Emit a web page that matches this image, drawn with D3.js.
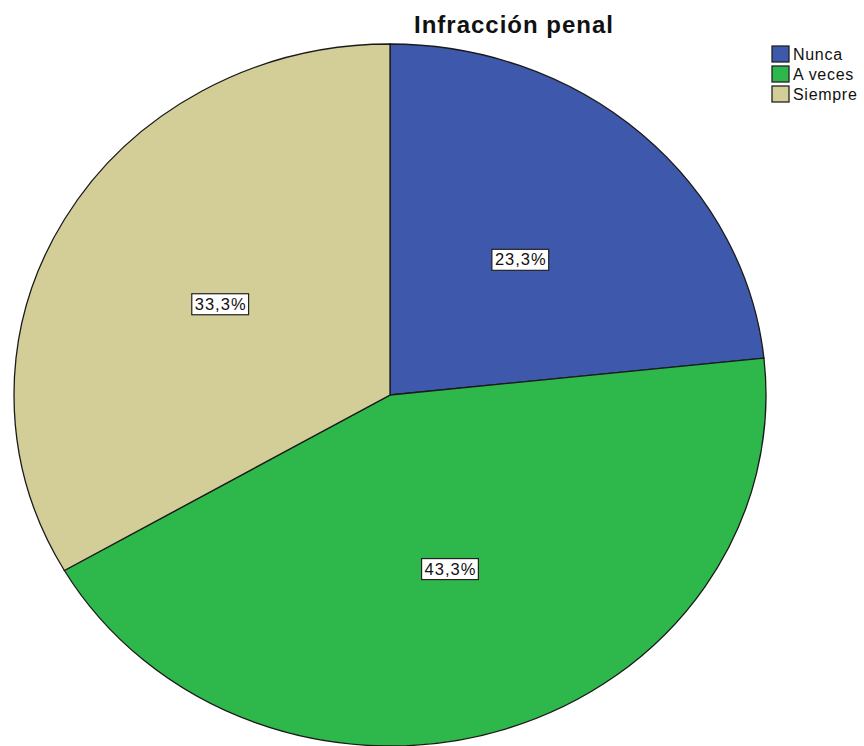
<!DOCTYPE html>
<html>
<head>
<meta charset="utf-8">
<script src="https://cdn.jsdelivr.net/npm/d3@7"></script>
<style>
  body { margin: 0; background: #fff; }
  text { font-family: "Liberation Sans", Arial, sans-serif; }
</style>
</head>
<body>
<svg width="864" height="746"></svg>
<script>
// data
let categories = ["Nunca", "A veces", "Siempre"];
let values     = [23.3, 43.3, 33.3];
let colours    = ["#3E58AC", "#2EB74A", "#D3CE97"];

let svg = d3.select("svg");

let cx = 390, cy = 395, rx = 376, ry = 351;

let pie = d3.pie().sort(null).value(d => d.v);
let arcs = pie(categories.map((c, i) => ({c: c, v: values[i], col: colours[i]})));

let arc = d3.arc().innerRadius(0).outerRadius(rx);

// pie is an ellipse, so draw round then squash
let g = svg.append("g")
  .attr("transform", `translate(${cx},${cy}) scale(1,${ry / rx})`);

g.selectAll("path")
  .data(arcs)
  .enter().append("path")
    .attr("d", arc)
    .attr("fill", d => d.data.col)
    .attr("stroke", "#1a1a1a")
    .attr("stroke-width", 1.3)
    .attr("vector-effect", "non-scaling-stroke");

// labels
let fmt = v => d3.format(".1f")(v).replace(".", ",") + "%";
let lab = svg.append("g");
arcs.forEach(d => {
  let a = (d.startAngle + d.endAngle) / 2;
  let x = cx + rx * 0.52 * Math.sin(a);
  let y = cy - ry * 0.52 * Math.cos(a);
  let t = lab.append("text")
    .attr("x", x).attr("y", y + 6)
    .attr("text-anchor", "middle")
    .style("font-size", "16.5px")
    .style("letter-spacing", "1px")
    .attr("fill", "#111")
    .text(fmt(d.data.v));
  let bb = t.node().getBBox();
  lab.insert("rect", "text")
    .attr("x", bb.x - 3).attr("y", y - 10)
    .attr("width", bb.width + 5).attr("height", 21)
    .attr("fill", "#fff")
    .attr("stroke", "#222")
    .attr("stroke-width", 1.2);
});

// title
svg.append("text")
  .attr("x", 514).attr("y", 33)
  .attr("text-anchor", "middle")
  .style("font-size", "24px")
  .style("font-weight", "bold")
  .style("letter-spacing", "1px")
  .attr("fill", "#111")
  .text("Infracción penal");

// legend
let leg = svg.append("g").attr("transform", "translate(772,46)");
categories.forEach((c, i) => {
  leg.append("rect")
    .attr("x", 0).attr("y", i * 20)
    .attr("width", 17).attr("height", 16)
    .attr("fill", colours[i])
    .attr("stroke", "#222")
    .attr("stroke-width", 1.3);
  leg.append("text")
    .attr("x", 21).attr("y", i * 20 + 14)
    .style("font-size", "16px")
    .style("letter-spacing", "0.7px")
    .attr("fill", "#111")
    .text(c);
});
</script>
</body>
</html>
